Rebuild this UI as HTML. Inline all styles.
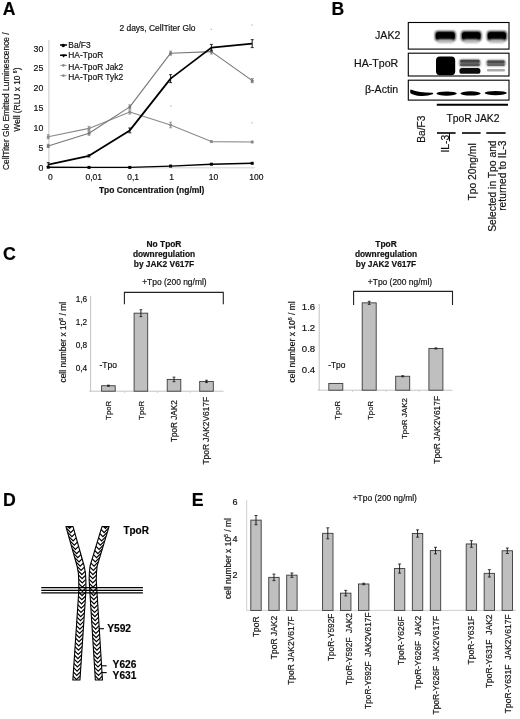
<!DOCTYPE html>
<html><head><meta charset="utf-8"><title>Figure</title>
<style>
html,body{margin:0;padding:0;background:#fff;}
body{width:520px;height:719px;overflow:hidden;}
svg{display:block;font-family:"Liberation Sans", Arial, sans-serif;filter:blur(0.35px);}
text{stroke:#111;stroke-width:0.18px;}
</style></head><body>
<svg width="520" height="719" viewBox="0 0 520 719">
<rect width="520" height="719" fill="#fff"/>
<g id="panelA">
<text x="2.7" y="14.9" font-size="17.6" text-anchor="start" font-weight="bold" fill="#000">A</text>
<line x1="48.9" y1="40" x2="48.9" y2="167.8" stroke="#a5a5a5" stroke-width="0.6"/>
<line x1="48.2" y1="167.8" x2="255" y2="167.8" stroke="#c8c8c8" stroke-width="0.8"/>
<text x="43.4" y="170.9" font-size="8.8" text-anchor="end" font-weight="normal" fill="#111">0</text>
<text x="43.4" y="151.0" font-size="8.8" text-anchor="end" font-weight="normal" fill="#111">5</text>
<text x="43.4" y="131.1" font-size="8.8" text-anchor="end" font-weight="normal" fill="#111">10</text>
<text x="43.4" y="111.19999999999999" font-size="8.8" text-anchor="end" font-weight="normal" fill="#111">15</text>
<text x="43.4" y="91.3" font-size="8.8" text-anchor="end" font-weight="normal" fill="#111">20</text>
<text x="43.4" y="71.39999999999999" font-size="8.8" text-anchor="end" font-weight="normal" fill="#111">25</text>
<text x="43.4" y="51.5" font-size="8.8" text-anchor="end" font-weight="normal" fill="#111">30</text>
<text x="50.4" y="179.6" font-size="8.5" text-anchor="middle" font-weight="normal" fill="#111">0</text>
<text x="93.8" y="179.6" font-size="8.5" text-anchor="middle" font-weight="normal" fill="#111">0,01</text>
<text x="133.2" y="179.6" font-size="8.5" text-anchor="middle" font-weight="normal" fill="#111">0,1</text>
<text x="171.5" y="179.6" font-size="8.5" text-anchor="middle" font-weight="normal" fill="#111">1</text>
<text x="213.5" y="179.6" font-size="8.5" text-anchor="middle" font-weight="normal" fill="#111">10</text>
<text x="256.3" y="179.6" font-size="8.5" text-anchor="middle" font-weight="normal" fill="#111">100</text>
<text x="151.7" y="193.3" font-size="8.45" text-anchor="middle" font-weight="bold" fill="#111">Tpo Concentration (ng/ml)</text>
<text x="157.5" y="31.2" font-size="8.45" text-anchor="middle" font-weight="normal" fill="#111">2 days, CellTiter Glo</text>
<text x="9.4" y="101.2" font-size="8.37" text-anchor="middle" font-weight="normal" fill="#111" transform="rotate(-90 9.4 101.2)">CellTiter Glo Emitted Luminescence /</text>
<text x="19.7" y="99.6" font-size="8.4" text-anchor="middle" font-weight="normal" fill="#111" transform="rotate(-90 19.7 99.6)">Well (RLU x 10 <tspan font-size="5" dy="-2.5">6</tspan><tspan dy="2.5">)</tspan></text>
<polyline points="48.2,136.76 89.0,128.4 129.8,112.08 170.6,125.02 211.4,141.61 252.2,141.93" fill="none" stroke="#8a8a8a" stroke-width="1.1" stroke-linejoin="round"/>
<line x1="48.2" y1="134.77" x2="48.2" y2="138.75" stroke="#8a8a8a" stroke-width="0.9"/>
<line x1="46.7" y1="134.77" x2="49.7" y2="134.77" stroke="#8a8a8a" stroke-width="0.8"/>
<line x1="46.7" y1="138.75" x2="49.7" y2="138.75" stroke="#8a8a8a" stroke-width="0.8"/>
<circle cx="48.2" cy="136.76" r="1.5" fill="#8a8a8a"/>
<line x1="89.0" y1="126.41" x2="89.0" y2="130.39" stroke="#8a8a8a" stroke-width="0.9"/>
<line x1="87.5" y1="126.41" x2="90.5" y2="126.41" stroke="#8a8a8a" stroke-width="0.8"/>
<line x1="87.5" y1="130.39" x2="90.5" y2="130.39" stroke="#8a8a8a" stroke-width="0.8"/>
<circle cx="89.0" cy="128.4" r="1.5" fill="#8a8a8a"/>
<line x1="129.8" y1="110.09" x2="129.8" y2="114.07" stroke="#8a8a8a" stroke-width="0.9"/>
<line x1="128.3" y1="110.09" x2="131.3" y2="110.09" stroke="#8a8a8a" stroke-width="0.8"/>
<line x1="128.3" y1="114.07" x2="131.3" y2="114.07" stroke="#8a8a8a" stroke-width="0.8"/>
<circle cx="129.8" cy="112.08" r="1.5" fill="#8a8a8a"/>
<line x1="170.6" y1="122.23" x2="170.6" y2="127.8" stroke="#8a8a8a" stroke-width="0.9"/>
<line x1="169.1" y1="122.23" x2="172.1" y2="122.23" stroke="#8a8a8a" stroke-width="0.8"/>
<line x1="169.1" y1="127.8" x2="172.1" y2="127.8" stroke="#8a8a8a" stroke-width="0.8"/>
<circle cx="170.6" cy="125.02" r="1.5" fill="#8a8a8a"/>
<line x1="211.4" y1="140.82" x2="211.4" y2="142.41" stroke="#8a8a8a" stroke-width="0.9"/>
<line x1="209.9" y1="140.82" x2="212.9" y2="140.82" stroke="#8a8a8a" stroke-width="0.8"/>
<line x1="209.9" y1="142.41" x2="212.9" y2="142.41" stroke="#8a8a8a" stroke-width="0.8"/>
<circle cx="211.4" cy="141.61" r="1.5" fill="#8a8a8a"/>
<line x1="252.2" y1="141.13" x2="252.2" y2="142.73" stroke="#8a8a8a" stroke-width="0.9"/>
<line x1="250.7" y1="141.13" x2="253.7" y2="141.13" stroke="#8a8a8a" stroke-width="0.8"/>
<line x1="250.7" y1="142.73" x2="253.7" y2="142.73" stroke="#8a8a8a" stroke-width="0.8"/>
<circle cx="252.2" cy="141.93" r="1.5" fill="#8a8a8a"/>
<polyline points="48.2,145.91 89.0,133.17 129.8,106.91 170.6,53.18 211.4,51.58 252.2,80.64" fill="none" stroke="#777" stroke-width="1.1" stroke-linejoin="round"/>
<line x1="48.2" y1="144.32" x2="48.2" y2="147.5" stroke="#777" stroke-width="0.9"/>
<line x1="46.7" y1="144.32" x2="49.7" y2="144.32" stroke="#777" stroke-width="0.8"/>
<line x1="46.7" y1="147.5" x2="49.7" y2="147.5" stroke="#777" stroke-width="0.8"/>
<circle cx="48.2" cy="145.91" r="1.5" fill="#777"/>
<line x1="89.0" y1="131.18" x2="89.0" y2="135.16" stroke="#777" stroke-width="0.9"/>
<line x1="87.5" y1="131.18" x2="90.5" y2="131.18" stroke="#777" stroke-width="0.8"/>
<line x1="87.5" y1="135.16" x2="90.5" y2="135.16" stroke="#777" stroke-width="0.8"/>
<circle cx="89.0" cy="133.17" r="1.5" fill="#777"/>
<line x1="129.8" y1="104.92" x2="129.8" y2="108.9" stroke="#777" stroke-width="0.9"/>
<line x1="128.3" y1="104.92" x2="131.3" y2="104.92" stroke="#777" stroke-width="0.8"/>
<line x1="128.3" y1="108.9" x2="131.3" y2="108.9" stroke="#777" stroke-width="0.8"/>
<circle cx="129.8" cy="106.91" r="1.5" fill="#777"/>
<line x1="170.6" y1="51.19" x2="170.6" y2="55.17" stroke="#777" stroke-width="0.9"/>
<line x1="169.1" y1="51.19" x2="172.1" y2="51.19" stroke="#777" stroke-width="0.8"/>
<line x1="169.1" y1="55.17" x2="172.1" y2="55.17" stroke="#777" stroke-width="0.8"/>
<circle cx="170.6" cy="53.18" r="1.5" fill="#777"/>
<line x1="211.4" y1="49.2" x2="211.4" y2="53.97" stroke="#777" stroke-width="0.9"/>
<line x1="209.9" y1="49.2" x2="212.9" y2="49.2" stroke="#777" stroke-width="0.8"/>
<line x1="209.9" y1="53.97" x2="212.9" y2="53.97" stroke="#777" stroke-width="0.8"/>
<circle cx="211.4" cy="51.58" r="1.5" fill="#777"/>
<line x1="252.2" y1="78.65" x2="252.2" y2="82.63" stroke="#777" stroke-width="0.9"/>
<line x1="250.7" y1="78.65" x2="253.7" y2="78.65" stroke="#777" stroke-width="0.8"/>
<line x1="250.7" y1="82.63" x2="253.7" y2="82.63" stroke="#777" stroke-width="0.8"/>
<circle cx="252.2" cy="80.64" r="1.5" fill="#777"/>
<polyline points="48.2,167.2 89.0,167.4 129.8,167.4 170.6,166.09 211.4,164.22 252.2,163.3" fill="none" stroke="#000" stroke-width="1.4" stroke-linejoin="round"/>
<rect x="46.7" y="165.7" width="3" height="3" fill="#000" stroke="none" stroke-width="1"/>
<rect x="87.5" y="165.9" width="3" height="3" fill="#000" stroke="none" stroke-width="1"/>
<rect x="128.3" y="165.9" width="3" height="3" fill="#000" stroke="none" stroke-width="1"/>
<rect x="169.1" y="164.59" width="3" height="3" fill="#000" stroke="none" stroke-width="1"/>
<rect x="209.9" y="162.72" width="3" height="3" fill="#000" stroke="none" stroke-width="1"/>
<rect x="250.7" y="161.8" width="3" height="3" fill="#000" stroke="none" stroke-width="1"/>
<polyline points="48.2,164.62 89.0,155.86 129.8,130.39 170.6,78.65 211.4,47.6 252.2,43.62" fill="none" stroke="#000" stroke-width="1.8" stroke-linejoin="round"/>
<line x1="48.2" y1="162.63" x2="48.2" y2="166.61" stroke="#000" stroke-width="0.9"/>
<line x1="46.7" y1="162.63" x2="49.7" y2="162.63" stroke="#000" stroke-width="0.8"/>
<line x1="46.7" y1="166.61" x2="49.7" y2="166.61" stroke="#000" stroke-width="0.8"/>
<line x1="89.0" y1="154.67" x2="89.0" y2="157.05" stroke="#000" stroke-width="0.9"/>
<line x1="87.5" y1="154.67" x2="90.5" y2="154.67" stroke="#000" stroke-width="0.8"/>
<line x1="87.5" y1="157.05" x2="90.5" y2="157.05" stroke="#000" stroke-width="0.8"/>
<line x1="129.8" y1="128.0" x2="129.8" y2="132.78" stroke="#000" stroke-width="0.9"/>
<line x1="128.3" y1="128.0" x2="131.3" y2="128.0" stroke="#000" stroke-width="0.8"/>
<line x1="128.3" y1="132.78" x2="131.3" y2="132.78" stroke="#000" stroke-width="0.8"/>
<line x1="170.6" y1="74.67" x2="170.6" y2="82.63" stroke="#000" stroke-width="0.9"/>
<line x1="169.1" y1="74.67" x2="172.1" y2="74.67" stroke="#000" stroke-width="0.8"/>
<line x1="169.1" y1="82.63" x2="172.1" y2="82.63" stroke="#000" stroke-width="0.8"/>
<line x1="211.4" y1="44.42" x2="211.4" y2="50.79" stroke="#000" stroke-width="0.9"/>
<line x1="209.9" y1="44.42" x2="212.9" y2="44.42" stroke="#000" stroke-width="0.8"/>
<line x1="209.9" y1="50.79" x2="212.9" y2="50.79" stroke="#000" stroke-width="0.8"/>
<line x1="252.2" y1="39.64" x2="252.2" y2="47.6" stroke="#000" stroke-width="0.9"/>
<line x1="250.7" y1="39.64" x2="253.7" y2="39.64" stroke="#000" stroke-width="0.8"/>
<line x1="250.7" y1="47.6" x2="253.7" y2="47.6" stroke="#000" stroke-width="0.8"/>
<line x1="60" y1="45.0" x2="67" y2="45.0" stroke="#000" stroke-width="1.5"/>
<text x="68.3" y="48.05" font-size="8.38" text-anchor="start" font-weight="normal" fill="#111">Ba/F3</text>
<line x1="60" y1="55.3" x2="67" y2="55.3" stroke="#000" stroke-width="1.5"/>
<text x="68.3" y="58.349999999999994" font-size="8.38" text-anchor="start" font-weight="normal" fill="#111">HA-TpoR</text>
<line x1="60.2" y1="65.4" x2="66.6" y2="65.4" stroke="#999" stroke-width="1"/>
<circle cx="63.4" cy="65.4" r="1.3" fill="#888"/>
<text x="68.3" y="70.25" font-size="8.38" text-anchor="start" font-weight="normal" fill="#111">HA-TpoR Jak2</text>
<line x1="60.2" y1="75.60000000000001" x2="66.6" y2="75.60000000000001" stroke="#999" stroke-width="1"/>
<circle cx="63.4" cy="75.60000000000001" r="1.3" fill="#888"/>
<text x="68.3" y="80.45" font-size="8.38" text-anchor="start" font-weight="normal" fill="#111">HA-TpoR Tyk2</text>
<circle cx="63.3" cy="45.5" r="1.7" fill="#000"/>
<path d="M61.3 54.4 L66 54.4 L63.6 57.6 Z" fill="#000"/>
<rect x="210.7" y="28.7" width="1.2" height="1.2" fill="#aaa" stroke="none" stroke-width="1"/>
<rect x="251.5" y="24.5" width="1.2" height="1.2" fill="#aaa" stroke="none" stroke-width="1"/>
<rect x="170.3" y="105.4" width="1.2" height="1.2" fill="#aaa" stroke="none" stroke-width="1"/>
<rect x="251.5" y="122.2" width="1.2" height="1.2" fill="#aaa" stroke="none" stroke-width="1"/>
</g>
<g id="panelB">
<text x="331.6" y="14.9" font-size="17.6" text-anchor="start" font-weight="bold" fill="#000">B</text>
<defs><filter id="bl" x="-20%" y="-50%" width="140%" height="200%"><feGaussianBlur stdDeviation="1.1"/></filter><filter id="bl3" x="-20%" y="-50%" width="140%" height="200%"><feGaussianBlur stdDeviation="0.45"/></filter><filter id="bl2" x="-20%" y="-50%" width="140%" height="200%"><feGaussianBlur stdDeviation="0.7"/></filter></defs>
<rect x="408.3" y="22.5" width="100.69999999999999" height="26.6" fill="#fff" stroke="#000" stroke-width="1.1"/>
<rect x="408.3" y="53.2" width="100.69999999999999" height="22.799999999999997" fill="#fff" stroke="#000" stroke-width="1.1"/>
<rect x="408.3" y="80.2" width="100.69999999999999" height="19.89999999999999" fill="#fff" stroke="#000" stroke-width="1.1"/>
<rect x="435.0" y="31" width="20.6" height="10" rx="3" fill="#141414" filter="url(#bl)"/>
<rect x="435.8" y="32.2" width="19.0" height="6.8" rx="2.6" fill="#000" filter="url(#bl2)"/>
<rect x="437.6" y="39.5" width="15.4" height="3.5" rx="1.5" fill="#bbb" filter="url(#bl)"/>
<rect x="461.2" y="31" width="20.1" height="10" rx="3" fill="#141414" filter="url(#bl)"/>
<rect x="462.0" y="32.2" width="18.5" height="6.8" rx="2.6" fill="#000" filter="url(#bl2)"/>
<rect x="463.8" y="39.5" width="14.9" height="3.5" rx="1.5" fill="#bbb" filter="url(#bl)"/>
<rect x="487.0" y="31" width="19.8" height="10" rx="3" fill="#141414" filter="url(#bl)"/>
<rect x="487.8" y="32.2" width="18.2" height="6.8" rx="2.6" fill="#000" filter="url(#bl2)"/>
<rect x="489.6" y="39.5" width="14.6" height="3.5" rx="1.5" fill="#bbb" filter="url(#bl)"/>
<rect x="436" y="56.4" width="19.2" height="18.8" rx="4" fill="#000" filter="url(#bl2)"/>
<rect x="437" y="58" width="17" height="16" rx="3" fill="#000"/>
<rect x="459.4" y="59.6" width="21" height="6.8" rx="2" fill="#707070" filter="url(#bl)"/>
<rect x="460.2" y="59.8" width="19.4" height="2.8" rx="1.3" fill="#444" filter="url(#bl2)"/>
<rect x="460.2" y="63.6" width="19.4" height="2.4" rx="1.1" fill="#555" filter="url(#bl2)"/>
<rect x="459.4" y="68" width="21" height="5.8" rx="2.6" fill="#0d0d0d" filter="url(#bl2)"/>
<rect x="486.4" y="60.1" width="19" height="6" rx="2" fill="#707070" filter="url(#bl)"/>
<rect x="487.2" y="60.4" width="17.4" height="2.8" rx="1.3" fill="#4a4a4a" filter="url(#bl2)"/>
<rect x="487.2" y="64" width="17.4" height="2" rx="0.9" fill="#666" filter="url(#bl2)"/>
<rect x="487" y="69" width="18" height="2.4" rx="1" fill="#aaa" filter="url(#bl2)"/>
<path d="M411 90.4 C414 91.6 420 93.4 432.3 93.6 C426 96 415 95.6 411 92.6 Z" fill="#000" stroke="#000" stroke-width="1.6" stroke-linejoin="round" filter="url(#bl3)"/>
<ellipse cx="446.6" cy="93.6" rx="10.2" ry="2.1" fill="#000" filter="url(#bl3)"/>
<ellipse cx="470.55" cy="93.4" rx="10.15" ry="2.1" fill="#000" filter="url(#bl3)"/>
<ellipse cx="495.7" cy="93.1" rx="11.1" ry="2.1" fill="#000" filter="url(#bl3)"/>
<text x="400.4" y="38.7" font-size="10.6" text-anchor="end" font-weight="normal" fill="#111">JAK2</text>
<text x="398.2" y="66.6" font-size="10.6" text-anchor="end" font-weight="normal" fill="#111">HA-TpoR</text>
<text x="398.2" y="93.4" font-size="10.6" text-anchor="end" font-weight="normal" fill="#111">β-Actin</text>
<line x1="436.8" y1="104.7" x2="508" y2="104.7" stroke="#000" stroke-width="2"/>
<text x="473" y="121.8" font-size="10.4" text-anchor="middle" font-weight="normal" fill="#111">TpoR JAK2</text>
<line x1="437" y1="133" x2="455.6" y2="133" stroke="#000" stroke-width="1.6"/>
<line x1="462" y1="133" x2="480.6" y2="133" stroke="#000" stroke-width="1.6"/>
<line x1="486.3" y1="133" x2="505.6" y2="133" stroke="#000" stroke-width="1.6"/>
<line x1="449.5" y1="133" x2="449.5" y2="141.3" stroke="#000" stroke-width="1"/>
<text x="424.8" y="142.7" font-size="10.2" text-anchor="start" font-weight="normal" fill="#111" transform="rotate(-90 424.8 142.7)">Ba/F3</text>
<text x="448.6" y="134.8" font-size="10.3" text-anchor="end" font-weight="normal" fill="#111" transform="rotate(-90 448.6 134.8)">IL-3</text>
<text x="475.8" y="143.3" font-size="10.3" text-anchor="end" font-weight="normal" fill="#111" transform="rotate(-90 475.8 143.3)">Tpo 20ng/ml</text>
<text x="496.2" y="140.4" font-size="10.3" text-anchor="end" font-weight="normal" fill="#111" transform="rotate(-90 496.2 140.4)">Selected in Tpo and</text>
<text x="506.4" y="140.4" font-size="10.3" text-anchor="end" font-weight="normal" fill="#111" transform="rotate(-90 506.4 140.4)">returned to IL-3</text>
</g>
<g id="panelC1">
<text x="164" y="246.6" font-size="8.37" text-anchor="middle" font-weight="bold" fill="#111">No TpoR</text>
<text x="164" y="256.8" font-size="8.37" text-anchor="middle" font-weight="bold" fill="#111">downregulation</text>
<text x="164" y="267.0" font-size="8.37" text-anchor="middle" font-weight="bold" fill="#111">by JAK2 V617F</text>
<text x="174.4" y="284.9" font-size="8.43" text-anchor="middle" font-weight="normal" fill="#111">+Tpo (200 ng/ml)</text>
<path d="M124.4 304.2 V292.4 H223.3 V304.2" fill="none" stroke="#222" stroke-width="1.1"/>
<line x1="90.6" y1="295.75" x2="90.6" y2="391.2" stroke="#a8a8a8" stroke-width="0.7"/>
<line x1="89.1" y1="391.2" x2="223.5" y2="391.2" stroke="#b5b5b5" stroke-width="0.8"/>
<text x="87.2" y="371.15" font-size="8.3" text-anchor="end" font-weight="normal" fill="#111">0,4</text>
<text x="87.2" y="348.15" font-size="8.3" text-anchor="end" font-weight="normal" fill="#111">0,8</text>
<text x="87.2" y="325.15" font-size="8.3" text-anchor="end" font-weight="normal" fill="#111">1,2</text>
<text x="87.2" y="302.15" font-size="8.3" text-anchor="end" font-weight="normal" fill="#111">1,6</text>
<rect x="101.6" y="385.74" width="13.6" height="5.46" fill="#bfbfbf" stroke="#3a3a3a" stroke-width="0.9"/>
<line x1="108.39999999999999" y1="385.17" x2="108.39999999999999" y2="386.31" stroke="#111" stroke-width="0.9"/>
<line x1="106.99999999999999" y1="385.17" x2="109.8" y2="385.17" stroke="#111" stroke-width="0.8"/>
<line x1="106.99999999999999" y1="386.31" x2="109.8" y2="386.31" stroke="#111" stroke-width="0.8"/>
<rect x="134.1" y="313.17" width="13.6" height="78.03" fill="#bfbfbf" stroke="#3a3a3a" stroke-width="0.9"/>
<line x1="140.9" y1="309.72" x2="140.9" y2="316.62" stroke="#111" stroke-width="0.9"/>
<line x1="139.5" y1="309.72" x2="142.3" y2="309.72" stroke="#111" stroke-width="0.8"/>
<line x1="139.5" y1="316.62" x2="142.3" y2="316.62" stroke="#111" stroke-width="0.8"/>
<rect x="167.2" y="379.41" width="13.6" height="11.79" fill="#bfbfbf" stroke="#3a3a3a" stroke-width="0.9"/>
<line x1="174.0" y1="377.11" x2="174.0" y2="381.71" stroke="#111" stroke-width="0.9"/>
<line x1="172.6" y1="377.11" x2="175.4" y2="377.11" stroke="#111" stroke-width="0.8"/>
<line x1="172.6" y1="381.71" x2="175.4" y2="381.71" stroke="#111" stroke-width="0.8"/>
<rect x="199.7" y="381.43" width="13.6" height="9.77" fill="#bfbfbf" stroke="#3a3a3a" stroke-width="0.9"/>
<line x1="206.5" y1="380.28" x2="206.5" y2="382.58" stroke="#111" stroke-width="0.9"/>
<line x1="205.1" y1="380.28" x2="207.9" y2="380.28" stroke="#111" stroke-width="0.8"/>
<line x1="205.1" y1="382.58" x2="207.9" y2="382.58" stroke="#111" stroke-width="0.8"/>
<line x1="124.65" y1="391.2" x2="124.65" y2="393.2" stroke="#c4c4c4" stroke-width="0.7"/>
<line x1="157.45" y1="391.2" x2="157.45" y2="393.2" stroke="#c4c4c4" stroke-width="0.7"/>
<line x1="190.25" y1="391.2" x2="190.25" y2="393.2" stroke="#c4c4c4" stroke-width="0.7"/>
<text x="99.4" y="367.9" font-size="8.55" text-anchor="start" font-weight="normal" fill="#111">-Tpo</text>
<text x="66.2" y="342.2" font-size="8.45" text-anchor="middle" font-weight="normal" fill="#111" transform="rotate(-90 66.2 342.2)">cell number x 10<tspan font-size="5.2" dy="-3">6</tspan><tspan dy="3"> / ml</tspan></text>
<text x="111.25" y="400.8" font-size="7.8" text-anchor="end" font-weight="normal" fill="#111" transform="rotate(-90 111.25 400.8)">TpoR</text>
<text x="143.75" y="400.8" font-size="7.8" text-anchor="end" font-weight="normal" fill="#111" transform="rotate(-90 143.75 400.8)">TpoR</text>
<text x="176.85" y="400.2" font-size="8.2" text-anchor="end" font-weight="normal" fill="#111" transform="rotate(-90 176.85 400.2)">TpoR JAK2</text>
<text x="209.35" y="396.8" font-size="8.41" text-anchor="end" font-weight="normal" fill="#111" transform="rotate(-90 209.35 396.8)">TpoR JAK2V617F</text>
</g>
<g id="panelC2">
<text x="386" y="246.6" font-size="8.37" text-anchor="middle" font-weight="bold" fill="#111">TpoR</text>
<text x="386" y="256.8" font-size="8.37" text-anchor="middle" font-weight="bold" fill="#111">downregulation</text>
<text x="386" y="267.0" font-size="8.37" text-anchor="middle" font-weight="bold" fill="#111">by JAK2 V617F</text>
<text x="400" y="284.9" font-size="8.43" text-anchor="middle" font-weight="normal" fill="#111">+Tpo (200 ng/ml)</text>
<path d="M353.6 305 V291.4 H452.5 V305" fill="none" stroke="#222" stroke-width="1.1"/>
<line x1="319.2" y1="303.88" x2="319.2" y2="390.2" stroke="#a8a8a8" stroke-width="0.7"/>
<line x1="317.7" y1="390.2" x2="452.5" y2="390.2" stroke="#b5b5b5" stroke-width="0.8"/>
<text x="315.2" y="372.6" font-size="9.6" text-anchor="end" font-weight="normal" fill="#111">0.4</text>
<text x="315.2" y="351.8" font-size="9.6" text-anchor="end" font-weight="normal" fill="#111">0.8</text>
<text x="315.2" y="331.0" font-size="9.6" text-anchor="end" font-weight="normal" fill="#111">1.2</text>
<text x="315.2" y="310.2" font-size="9.6" text-anchor="end" font-weight="normal" fill="#111">1.6</text>
<rect x="328.8" y="383.44" width="14" height="6.76" fill="#bfbfbf" stroke="#3a3a3a" stroke-width="0.9"/>
<rect x="362.2" y="302.84" width="14" height="87.36" fill="#bfbfbf" stroke="#3a3a3a" stroke-width="0.9"/>
<line x1="369.2" y1="301.28" x2="369.2" y2="304.4" stroke="#111" stroke-width="0.9"/>
<line x1="367.8" y1="301.28" x2="370.59999999999997" y2="301.28" stroke="#111" stroke-width="0.8"/>
<line x1="367.8" y1="304.4" x2="370.59999999999997" y2="304.4" stroke="#111" stroke-width="0.8"/>
<rect x="395.7" y="376.26" width="14" height="13.94" fill="#bfbfbf" stroke="#3a3a3a" stroke-width="0.9"/>
<line x1="402.7" y1="375.74" x2="402.7" y2="376.78" stroke="#111" stroke-width="0.9"/>
<line x1="401.3" y1="375.74" x2="404.09999999999997" y2="375.74" stroke="#111" stroke-width="0.8"/>
<line x1="401.3" y1="376.78" x2="404.09999999999997" y2="376.78" stroke="#111" stroke-width="0.8"/>
<rect x="428.9" y="348.44" width="14" height="41.76" fill="#bfbfbf" stroke="#3a3a3a" stroke-width="0.9"/>
<line x1="435.9" y1="347.92" x2="435.9" y2="348.96" stroke="#111" stroke-width="0.9"/>
<line x1="434.5" y1="347.92" x2="437.29999999999995" y2="347.92" stroke="#111" stroke-width="0.8"/>
<line x1="434.5" y1="348.96" x2="437.29999999999995" y2="348.96" stroke="#111" stroke-width="0.8"/>
<line x1="352.5" y1="390.2" x2="352.5" y2="392.2" stroke="#c4c4c4" stroke-width="0.7"/>
<line x1="385.95" y1="390.2" x2="385.95" y2="392.2" stroke="#c4c4c4" stroke-width="0.7"/>
<line x1="419.3" y1="390.2" x2="419.3" y2="392.2" stroke="#c4c4c4" stroke-width="0.7"/>
<text x="328.2" y="367.9" font-size="8.4" text-anchor="start" font-weight="normal" fill="#111">-Tpo</text>
<text x="295" y="341.9" font-size="8.5" text-anchor="middle" font-weight="normal" fill="#111" transform="rotate(-90 295 341.9)">cell number x 10<tspan font-size="5.2" dy="-3">6</tspan><tspan dy="3"> / ml</tspan></text>
<text x="339.8" y="401" font-size="7.7" text-anchor="end" font-weight="normal" fill="#111" transform="rotate(-90 339.8 401)">TpoR</text>
<text x="373.2" y="401" font-size="7.7" text-anchor="end" font-weight="normal" fill="#111" transform="rotate(-90 373.2 401)">TpoR</text>
<text x="406.7" y="397.9" font-size="8.06" text-anchor="end" font-weight="normal" fill="#111" transform="rotate(-90 406.7 397.9)">TpoR JAK2</text>
<text x="439.9" y="395.9" font-size="8.41" text-anchor="end" font-weight="normal" fill="#111" transform="rotate(-90 439.9 395.9)">TpoR JAK2V617F</text>
</g>
<text x="3.0" y="260" font-size="17.8" text-anchor="start" font-weight="bold" fill="#000">C</text>
<g id="panelD">
<text x="3.1" y="505.8" font-size="17.7" text-anchor="start" font-weight="bold" fill="#000">D</text>
<text x="191.7" y="506" font-size="17.8" text-anchor="start" font-weight="bold" fill="#000">E</text>
<clipPath id="chL"><polygon points="65.95,526.6 77.05,566 78.35,573 78.75,580 78.85,590 72.85,680 79.95,680 85.95,590 85.85,580 85.45,573 84.15,566 73.05,526.6"/></clipPath>
<polygon points="65.95,526.6 77.05,566 78.35,573 78.75,580 78.85,590 72.85,680 79.95,680 85.95,590 85.85,580 85.45,573 84.15,566 73.05,526.6" fill="#fff"/>
<g clip-path="url(#chL)" stroke="#000" stroke-width="1.2" fill="none">
<path d="M64.95 519.6 L69.5 524.15 L74.05 519.6"/>
<path d="M65.01 523.8 L69.56 528.35 L74.11 523.8"/>
<path d="M66.19 528.0 L70.74 532.55 L75.29 528.0"/>
<path d="M67.37 532.2 L71.92 536.75 L76.47 532.2"/>
<path d="M68.56 536.4 L73.11 540.95 L77.66 536.4"/>
<path d="M69.74 540.6 L74.29 545.15 L78.84 540.6"/>
<path d="M70.92 544.8 L75.47 549.35 L80.02 544.8"/>
<path d="M72.11 549.0 L76.66 553.55 L81.21 549.0"/>
<path d="M73.29 553.2 L77.84 557.75 L82.39 553.2"/>
<path d="M74.47 557.4 L79.02 561.95 L83.57 557.4"/>
<path d="M75.66 561.6 L80.21 566.15 L84.76 561.6"/>
<path d="M76.57 565.8 L81.12 570.35 L85.67 565.8"/>
<path d="M77.35 570.0 L81.9 574.55 L86.45 570.0"/>
<path d="M77.59 574.2 L82.14 578.75 L86.69 574.2"/>
<path d="M77.76 578.4 L82.31 582.95 L86.86 578.4"/>
<path d="M77.81 582.6 L82.36 587.15 L86.91 582.6"/>
<path d="M77.85 586.8 L82.4 591.35 L86.95 586.8"/>
<path d="M77.58 591.0 L82.13 595.55 L86.68 591.0"/>
<path d="M77.3 595.2 L81.85 599.75 L86.4 595.2"/>
<path d="M77.02 599.4 L81.57 603.95 L86.12 599.4"/>
<path d="M76.74 603.6 L81.29 608.15 L85.84 603.6"/>
<path d="M76.46 607.8 L81.01 612.35 L85.56 607.8"/>
<path d="M76.18 612.0 L80.73 616.55 L85.28 612.0"/>
<path d="M75.9 616.2 L80.45 620.75 L85.0 616.2"/>
<path d="M75.62 620.4 L80.17 624.95 L84.72 620.4"/>
<path d="M75.34 624.6 L79.89 629.15 L84.44 624.6"/>
<path d="M75.06 628.8 L79.61 633.35 L84.16 628.8"/>
<path d="M74.78 633.0 L79.33 637.55 L83.88 633.0"/>
<path d="M74.5 637.2 L79.05 641.75 L83.6 637.2"/>
<path d="M74.22 641.4 L78.77 645.95 L83.32 641.4"/>
<path d="M73.94 645.6 L78.49 650.15 L83.04 645.6"/>
<path d="M73.66 649.8 L78.21 654.35 L82.76 649.8"/>
<path d="M73.38 654.0 L77.93 658.55 L82.48 654.0"/>
<path d="M73.1 658.2 L77.65 662.75 L82.2 658.2"/>
<path d="M72.82 662.4 L77.37 666.95 L81.92 662.4"/>
<path d="M72.54 666.6 L77.09 671.15 L81.64 666.6"/>
<path d="M72.26 670.8 L76.81 675.35 L81.36 670.8"/>
<path d="M71.98 675.0 L76.53 679.55 L81.08 675.0"/>
<path d="M71.85 679.2 L76.4 683.75 L80.95 679.2"/>
</g>
<polygon points="65.95,526.6 77.05,566 78.35,573 78.75,580 78.85,590 72.85,680 79.95,680 85.95,590 85.85,580 85.45,573 84.15,566 73.05,526.6" fill="none" stroke="#000" stroke-width="1.1" stroke-linejoin="round"/>
<clipPath id="chR"><polygon points="101.95,526.6 90.05,566 89.35,573 89.15,580 89.75,590 95.35,680 102.45,680 96.85,590 96.25,580 96.45,573 97.15,566 109.05,526.6"/></clipPath>
<polygon points="101.95,526.6 90.05,566 89.35,573 89.15,580 89.75,590 95.35,680 102.45,680 96.85,590 96.25,580 96.45,573 97.15,566 109.05,526.6" fill="#fff"/>
<g clip-path="url(#chR)" stroke="#000" stroke-width="1.2" fill="none">
<path d="M100.95 519.6 L105.5 524.15 L110.05 519.6"/>
<path d="M100.89 523.8 L105.44 528.35 L109.99 523.8"/>
<path d="M99.62 528.0 L104.17 532.55 L108.72 528.0"/>
<path d="M98.35 532.2 L102.9 536.75 L107.45 532.2"/>
<path d="M97.08 536.4 L101.63 540.95 L106.18 536.4"/>
<path d="M95.82 540.6 L100.37 545.15 L104.92 540.6"/>
<path d="M94.55 544.8 L99.1 549.35 L103.65 544.8"/>
<path d="M93.28 549.0 L97.83 553.55 L102.38 549.0"/>
<path d="M92.01 553.2 L96.56 557.75 L101.11 553.2"/>
<path d="M90.74 557.4 L95.29 561.95 L99.84 557.4"/>
<path d="M89.47 561.6 L94.02 566.15 L98.57 561.6"/>
<path d="M88.77 565.8 L93.32 570.35 L97.87 565.8"/>
<path d="M88.35 570.0 L92.9 574.55 L97.45 570.0"/>
<path d="M88.23 574.2 L92.78 578.75 L97.33 574.2"/>
<path d="M88.23 578.4 L92.78 582.95 L97.33 578.4"/>
<path d="M88.49 582.6 L93.04 587.15 L97.59 582.6"/>
<path d="M88.74 586.8 L93.29 591.35 L97.84 586.8"/>
<path d="M89.0 591.0 L93.55 595.55 L98.1 591.0"/>
<path d="M89.26 595.2 L93.81 599.75 L98.36 595.2"/>
<path d="M89.52 599.4 L94.07 603.95 L98.62 599.4"/>
<path d="M89.78 603.6 L94.33 608.15 L98.88 603.6"/>
<path d="M90.04 607.8 L94.59 612.35 L99.14 607.8"/>
<path d="M90.31 612.0 L94.86 616.55 L99.41 612.0"/>
<path d="M90.57 616.2 L95.12 620.75 L99.67 616.2"/>
<path d="M90.83 620.4 L95.38 624.95 L99.93 620.4"/>
<path d="M91.09 624.6 L95.64 629.15 L100.19 624.6"/>
<path d="M91.35 628.8 L95.9 633.35 L100.45 628.8"/>
<path d="M91.61 633.0 L96.16 637.55 L100.71 633.0"/>
<path d="M91.87 637.2 L96.42 641.75 L100.97 637.2"/>
<path d="M92.13 641.4 L96.68 645.95 L101.23 641.4"/>
<path d="M92.4 645.6 L96.95 650.15 L101.5 645.6"/>
<path d="M92.66 649.8 L97.21 654.35 L101.76 649.8"/>
<path d="M92.92 654.0 L97.47 658.55 L102.02 654.0"/>
<path d="M93.18 658.2 L97.73 662.75 L102.28 658.2"/>
<path d="M93.44 662.4 L97.99 666.95 L102.54 662.4"/>
<path d="M93.7 666.6 L98.25 671.15 L102.8 666.6"/>
<path d="M93.96 670.8 L98.51 675.35 L103.06 670.8"/>
<path d="M94.23 675.0 L98.78 679.55 L103.33 675.0"/>
<path d="M94.35 679.2 L98.9 683.75 L103.45 679.2"/>
</g>
<polygon points="101.95,526.6 90.05,566 89.35,573 89.15,580 89.75,590 95.35,680 102.45,680 96.85,590 96.25,580 96.45,573 97.15,566 109.05,526.6" fill="none" stroke="#000" stroke-width="1.1" stroke-linejoin="round"/>
<line x1="41.3" y1="587.6" x2="142.9" y2="587.6" stroke="#000" stroke-width="1.25"/>
<line x1="41.3" y1="590.3" x2="142.9" y2="590.3" stroke="#000" stroke-width="1.25"/>
<line x1="41.3" y1="592.9" x2="142.9" y2="592.9" stroke="#000" stroke-width="1.25"/>
<text x="123.4" y="534.3" font-size="10" text-anchor="start" font-weight="bold" fill="#000">TpoR</text>
<line x1="98.6" y1="628.7" x2="104" y2="628.7" stroke="#000" stroke-width="1.1"/>
<text x="107.2" y="632.1" font-size="10.2" text-anchor="start" font-weight="bold" fill="#000">Y592</text>
<line x1="101.9" y1="665.8" x2="106.7" y2="665.8" stroke="#000" stroke-width="1.1"/>
<text x="112.6" y="667.7" font-size="10.2" text-anchor="start" font-weight="bold" fill="#000">Y626</text>
<line x1="101.5" y1="672.6" x2="106.7" y2="672.6" stroke="#000" stroke-width="1.1"/>
<text x="112.6" y="678.7" font-size="10.2" text-anchor="start" font-weight="bold" fill="#000">Y631</text>
</g>
<g id="panelE">
<text x="384.8" y="500.8" font-size="8.41" text-anchor="middle" font-weight="normal" fill="#111">+Tpo (200 ng/ml)</text>
<line x1="246.7" y1="500" x2="246.7" y2="610.4" stroke="#c4c4c4" stroke-width="0.8"/>
<line x1="246.7" y1="610.4" x2="516" y2="610.4" stroke="#c4c4c4" stroke-width="0.8"/>
<text x="237.4" y="578.4" font-size="9" text-anchor="end" font-weight="normal" fill="#111">2</text>
<text x="237.4" y="541.8" font-size="9" text-anchor="end" font-weight="normal" fill="#111">4</text>
<text x="237.4" y="504.9" font-size="9" text-anchor="end" font-weight="normal" fill="#111">6</text>
<text x="231.1" y="558.5" font-size="8.48" text-anchor="middle" font-weight="normal" fill="#111" transform="rotate(-90 231.1 558.5)">cell number x 10<tspan font-size="5.2" dy="-3">5</tspan><tspan dy="3"> / ml</tspan></text>
<rect x="250.8" y="520.12" width="10.4" height="90.28" fill="#bfbfbf" stroke="#3a3a3a" stroke-width="0.9"/>
<line x1="256.0" y1="515.53" x2="256.0" y2="524.71" stroke="#111" stroke-width="0.9"/>
<line x1="254.5" y1="515.53" x2="257.5" y2="515.53" stroke="#111" stroke-width="0.8"/>
<line x1="254.5" y1="524.71" x2="257.5" y2="524.71" stroke="#111" stroke-width="0.8"/>
<text x="259.25" y="616.3" font-size="8.5" text-anchor="end" font-weight="normal" fill="#111" transform="rotate(-90 259.25 616.3)" xml:space="preserve">TpoR</text>
<rect x="268.75" y="577.37" width="10.4" height="33.03" fill="#bfbfbf" stroke="#3a3a3a" stroke-width="0.9"/>
<line x1="273.95" y1="574.07" x2="273.95" y2="580.67" stroke="#111" stroke-width="0.9"/>
<line x1="272.45" y1="574.07" x2="275.45" y2="574.07" stroke="#111" stroke-width="0.8"/>
<line x1="272.45" y1="580.67" x2="275.45" y2="580.67" stroke="#111" stroke-width="0.8"/>
<text x="276.75" y="615.8" font-size="8.5" text-anchor="end" font-weight="normal" fill="#111" transform="rotate(-90 276.75 615.8)" xml:space="preserve">TpoR JAK2</text>
<rect x="286.7" y="575.17" width="10.4" height="35.23" fill="#bfbfbf" stroke="#3a3a3a" stroke-width="0.9"/>
<line x1="291.9" y1="572.97" x2="291.9" y2="577.37" stroke="#111" stroke-width="0.9"/>
<line x1="290.4" y1="572.97" x2="293.4" y2="572.97" stroke="#111" stroke-width="0.8"/>
<line x1="290.4" y1="577.37" x2="293.4" y2="577.37" stroke="#111" stroke-width="0.8"/>
<text x="294.45" y="616.3" font-size="8.5" text-anchor="end" font-weight="normal" fill="#111" transform="rotate(-90 294.45 616.3)" xml:space="preserve">TpoR JAK2V617F</text>
<rect x="322.6" y="533.33" width="10.4" height="77.07" fill="#bfbfbf" stroke="#3a3a3a" stroke-width="0.9"/>
<line x1="327.8" y1="527.83" x2="327.8" y2="538.84" stroke="#111" stroke-width="0.9"/>
<line x1="326.3" y1="527.83" x2="329.3" y2="527.83" stroke="#111" stroke-width="0.8"/>
<line x1="326.3" y1="538.84" x2="329.3" y2="538.84" stroke="#111" stroke-width="0.8"/>
<text x="333.55" y="613.6" font-size="8.3" text-anchor="end" font-weight="normal" fill="#111" transform="rotate(-90 333.55 613.6)" xml:space="preserve">TpoR-Y592F</text>
<rect x="340.55" y="593.15" width="10.4" height="17.25" fill="#bfbfbf" stroke="#3a3a3a" stroke-width="0.9"/>
<line x1="345.75" y1="590.4" x2="345.75" y2="595.9" stroke="#111" stroke-width="0.9"/>
<line x1="344.25" y1="590.4" x2="347.25" y2="590.4" stroke="#111" stroke-width="0.8"/>
<line x1="344.25" y1="595.9" x2="347.25" y2="595.9" stroke="#111" stroke-width="0.8"/>
<text x="352.05" y="613.1" font-size="8.3" text-anchor="end" font-weight="normal" fill="#111" transform="rotate(-90 352.05 613.1)" xml:space="preserve">TpoR-Y592F  JAK2</text>
<rect x="358.5" y="583.98" width="10.4" height="26.42" fill="#bfbfbf" stroke="#3a3a3a" stroke-width="0.9"/>
<line x1="363.7" y1="583.25" x2="363.7" y2="584.71" stroke="#111" stroke-width="0.9"/>
<line x1="362.2" y1="583.25" x2="365.2" y2="583.25" stroke="#111" stroke-width="0.8"/>
<line x1="362.2" y1="584.71" x2="365.2" y2="584.71" stroke="#111" stroke-width="0.8"/>
<text x="370.55" y="612.5" font-size="8.3" text-anchor="end" font-weight="normal" fill="#111" transform="rotate(-90 370.55 612.5)" xml:space="preserve">TpoR-Y592F  JAK2V617F</text>
<rect x="394.4" y="568.56" width="10.4" height="41.84" fill="#bfbfbf" stroke="#3a3a3a" stroke-width="0.9"/>
<line x1="399.6" y1="563.97" x2="399.6" y2="573.15" stroke="#111" stroke-width="0.9"/>
<line x1="398.1" y1="563.97" x2="401.1" y2="563.97" stroke="#111" stroke-width="0.8"/>
<line x1="398.1" y1="573.15" x2="401.1" y2="573.15" stroke="#111" stroke-width="0.8"/>
<text x="403.55" y="616.3" font-size="8.5" text-anchor="end" font-weight="normal" fill="#111" transform="rotate(-90 403.55 616.3)" xml:space="preserve">TpoR-Y626F</text>
<rect x="412.35" y="533.51" width="10.4" height="76.89" fill="#bfbfbf" stroke="#3a3a3a" stroke-width="0.9"/>
<line x1="417.55" y1="529.84" x2="417.55" y2="537.18" stroke="#111" stroke-width="0.9"/>
<line x1="416.05" y1="529.84" x2="419.05" y2="529.84" stroke="#111" stroke-width="0.8"/>
<line x1="416.05" y1="537.18" x2="419.05" y2="537.18" stroke="#111" stroke-width="0.8"/>
<text x="421.05" y="615.8" font-size="8.5" text-anchor="end" font-weight="normal" fill="#111" transform="rotate(-90 421.05 615.8)" xml:space="preserve">TpoR-Y626F  JAK2</text>
<rect x="430.3" y="550.58" width="10.4" height="59.82" fill="#bfbfbf" stroke="#3a3a3a" stroke-width="0.9"/>
<line x1="435.5" y1="547.28" x2="435.5" y2="553.88" stroke="#111" stroke-width="0.9"/>
<line x1="434.0" y1="547.28" x2="437.0" y2="547.28" stroke="#111" stroke-width="0.8"/>
<line x1="434.0" y1="553.88" x2="437.0" y2="553.88" stroke="#111" stroke-width="0.8"/>
<text x="438.55" y="615.8" font-size="8.5" text-anchor="end" font-weight="normal" fill="#111" transform="rotate(-90 438.55 615.8)" xml:space="preserve">TpoR-Y626F  JAK2V617F</text>
<rect x="466.2" y="543.97" width="10.4" height="66.43" fill="#bfbfbf" stroke="#3a3a3a" stroke-width="0.9"/>
<line x1="471.4" y1="540.67" x2="471.4" y2="547.27" stroke="#111" stroke-width="0.9"/>
<line x1="469.9" y1="540.67" x2="472.9" y2="540.67" stroke="#111" stroke-width="0.8"/>
<line x1="469.9" y1="547.27" x2="472.9" y2="547.27" stroke="#111" stroke-width="0.8"/>
<text x="474.35" y="615.8" font-size="8.5" text-anchor="end" font-weight="normal" fill="#111" transform="rotate(-90 474.35 615.8)" xml:space="preserve">TpoR-Y631F</text>
<rect x="484.15" y="573.33" width="10.4" height="37.07" fill="#bfbfbf" stroke="#3a3a3a" stroke-width="0.9"/>
<line x1="489.35" y1="569.66" x2="489.35" y2="577.0" stroke="#111" stroke-width="0.9"/>
<line x1="487.85" y1="569.66" x2="490.85" y2="569.66" stroke="#111" stroke-width="0.8"/>
<line x1="487.85" y1="577.0" x2="490.85" y2="577.0" stroke="#111" stroke-width="0.8"/>
<text x="492.35" y="614.4" font-size="8.5" text-anchor="end" font-weight="normal" fill="#111" transform="rotate(-90 492.35 614.4)" xml:space="preserve">TpoR-Y631F  JAK2</text>
<rect x="502.1" y="550.76" width="10.4" height="59.64" fill="#bfbfbf" stroke="#3a3a3a" stroke-width="0.9"/>
<line x1="507.3" y1="548.01" x2="507.3" y2="553.51" stroke="#111" stroke-width="0.9"/>
<line x1="505.8" y1="548.01" x2="508.8" y2="548.01" stroke="#111" stroke-width="0.8"/>
<line x1="505.8" y1="553.51" x2="508.8" y2="553.51" stroke="#111" stroke-width="0.8"/>
<text x="510.55" y="614.4" font-size="8.5" text-anchor="end" font-weight="normal" fill="#111" transform="rotate(-90 510.55 614.4)" xml:space="preserve">TpoR-Y631F  JAK2V617F</text>
</g>
</svg>
</body></html>
